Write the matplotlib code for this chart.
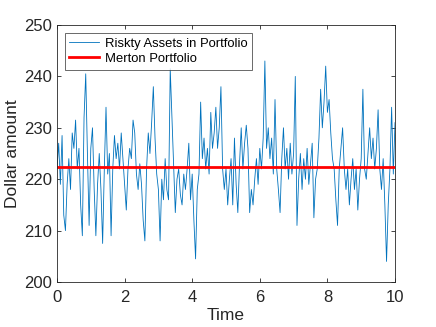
import matplotlib
matplotlib.use("Agg")
import matplotlib.pyplot as plt
import numpy as np

plt.rcParams['font.family'] = ['Liberation Sans', 'DejaVu Sans']

time = np.arange(0, 10.0001, 0.05)
risky = [222, 227, 219, 228.5, 213, 210, 219, 224, 218, 229,
         226, 231.5, 222, 226, 215, 209, 232, 240.5, 225, 211,
         226, 230, 218, 209, 219, 225, 218, 207.5, 222, 234,
         221, 225, 209, 222, 228.5, 224, 227, 222, 229, 224,
         219, 214, 222, 226, 224, 231.5, 229, 221, 218, 223,
         219, 212, 208, 222, 229, 225, 231, 238, 228, 221,
         218, 208, 220, 216, 224, 218, 216, 241.5, 232, 222,
         213.5, 220, 222, 217, 215, 221, 218, 222, 227, 216,
         221, 212, 204.5, 218, 221, 235, 224, 228, 222, 226,
         221, 233, 226, 229, 234, 226, 230, 238, 222, 218,
         222, 215, 220, 224, 215, 228, 219, 213.5, 223, 230,
         222, 227, 230.5, 226, 213.5, 218, 215, 220, 224, 219,
         226, 222, 228, 243, 226, 230, 224, 228, 221, 235.5,
         222, 218, 213.5, 224, 230, 222, 226, 220, 227, 221,
         225, 240, 211, 220, 225, 218, 224, 220, 226, 219,
         223, 227, 212.5, 220, 222, 228, 237.5, 230, 235, 242,
         233, 235.5, 229, 224, 222, 216, 211, 222, 226, 230,
         222, 218, 222, 215, 220, 224, 218, 222, 214, 220,
         224, 237.5, 222, 220, 225, 230, 224, 228, 222, 226,
         233.5, 222, 218, 224, 215, 204, 215, 222, 234, 221,
         231]
merton_value = 222.3

fig = plt.figure(figsize=(4.36, 3.27), dpi=100)
ax = fig.add_axes([57/436, 45/327, 338/436, 257/327])

ax.plot(time, risky, color='#0072BD', lw=0.6, label='Riskty Assets in Portfolio')
ax.plot([time[0], time[-1]], [merton_value, merton_value], color='#FF0000', lw=2.0,
        label='Merton Portfolio')

ax.set_xlim(0, 10)
ax.set_ylim(200, 250)
ax.set_xticks([0, 2, 4, 6, 8, 10])
ax.set_yticks([200, 210, 220, 230, 240, 250])
ax.tick_params(direction='in', top=True, right=True, labelsize=12,
               colors='#262626', length=3, width=0.6)
ax.tick_params(axis='x', pad=6)
for sp in ax.spines.values():
    sp.set_color('#262626')
    sp.set_linewidth(0.6)
ax.set_xlabel('Time', fontsize=12.5, color='#262626', labelpad=2)
ax.set_ylabel('Dollar amount', fontsize=12.5, color='#262626', labelpad=3)

leg = ax.legend(loc='upper left', fontsize=9.4, frameon=True, fancybox=False,
                handlelength=2.3, borderpad=0.35, labelspacing=0.25,
                handletextpad=0.4, borderaxespad=0.6)
leg.get_frame().set_edgecolor('#262626')
leg.get_frame().set_linewidth(0.6)

fig.savefig('out.png', dpi=100)
